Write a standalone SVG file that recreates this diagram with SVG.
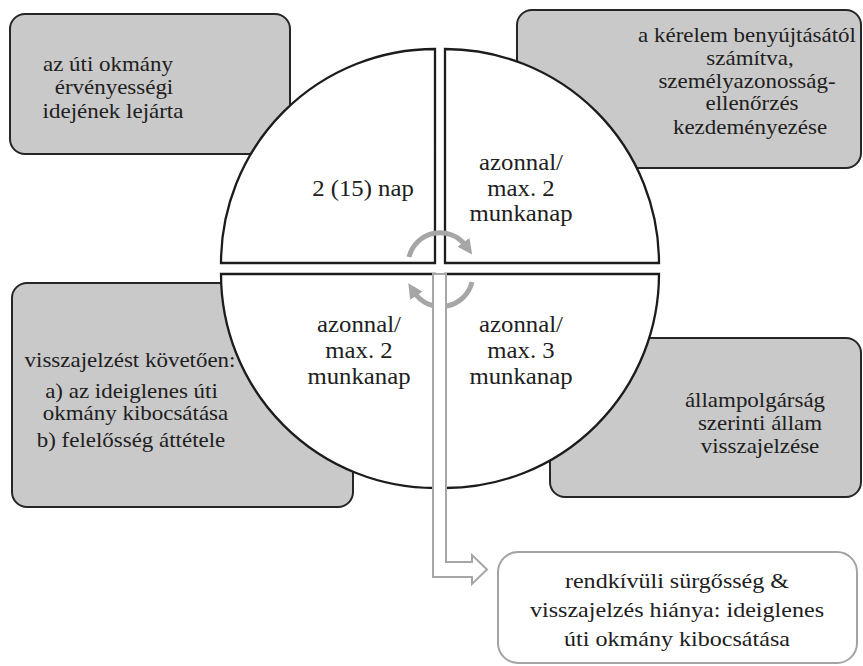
<svg xmlns="http://www.w3.org/2000/svg" width="863" height="666" viewBox="0 0 863 666">
  <defs>
    <style>
      .box { fill: #c9c9c9; stroke: #262626; stroke-width: 2; }
      .quad { fill: #ffffff; stroke: #1c1c1c; stroke-width: 2.3; }
      .note { fill: #ffffff; stroke: #a3a3a3; stroke-width: 2; }
      .cyc { fill: none; stroke: #a6a6a6; stroke-width: 5; }
      .hollow { fill: #ffffff; stroke: #a6a6a6; stroke-width: 2; }
      text { font-family: "Liberation Serif", "Times New Roman", serif; fill: #202020; text-anchor: middle; }
      .bx { font-size: 20.5px; }
      .qd { font-size: 22.5px; }
      .nt { font-size: 21.5px; }
    </style>
    <marker id="cycHead" viewBox="0 0 10 10" refX="3" refY="5" markerWidth="3" markerHeight="3" orient="auto" markerUnits="strokeWidth">
      <path d="M0,0 L10,5 L0,10 Z" fill="#a6a6a6"/>
    </marker>
  </defs>

  <rect width="863" height="666" fill="#ffffff"/>

  <!-- outer grey boxes -->
  <g id="box-top-left">
    <rect class="box" x="10" y="14" width="280" height="140" rx="15"/>
  </g>
  <g id="box-top-right">
    <rect class="box" x="517" y="10" width="344" height="158" rx="15"/>
  </g>
  <g id="box-bottom-left">
    <rect class="box" x="12" y="283" width="341" height="224" rx="15"/>
  </g>
  <g id="box-bottom-right">
    <rect class="box" x="550" y="338" width="311" height="159" rx="15"/>
  </g>

  <!-- four quadrants of the central circle -->
  <g id="quad-top-left">
    <path class="quad" d="M435,263 L221,263 A214,214 0 0 1 435,49 Z"/>
    <text class="qd" transform="translate(363 196) scale(1.1 1)">2 (15) nap</text>
  </g>
  <g id="quad-top-right">
    <path class="quad" d="M445,263 L445,49 A214,214 0 0 1 659,263 Z"/>
    <text class="qd" transform="translate(521 170) scale(1.1 1)">azonnal/</text>
    <text class="qd" transform="translate(521 196) scale(1.1 1)">max. 2</text>
    <text class="qd" transform="translate(521 221) scale(1.1 1)">munkanap</text>
  </g>
  <g id="quad-bottom-left">
    <path class="quad" d="M435,274 L435,488 A214,214 0 0 1 221,274 Z"/>
    <text class="qd" transform="translate(359 332) scale(1.1 1)">azonnal/</text>
    <text class="qd" transform="translate(359 358) scale(1.1 1)">max. 2</text>
    <text class="qd" transform="translate(359 384) scale(1.1 1)">munkanap</text>
  </g>
  <g id="quad-bottom-right">
    <path class="quad" d="M445,274 L659,274 A214,214 0 0 1 445,488 Z"/>
    <text class="qd" transform="translate(521 332) scale(1.1 1)">azonnal/</text>
    <text class="qd" transform="translate(521 358) scale(1.1 1)">max. 3</text>
    <text class="qd" transform="translate(521 384) scale(1.1 1)">munkanap</text>
  </g>

  <!-- box labels -->
  <g id="label-top-left">
    <text class="bx" transform="translate(108 70.5) scale(1.12 1)">az úti okmány</text>
    <text class="bx" transform="translate(114 94) scale(1.12 1)">érvényességi</text>
    <text class="bx" transform="translate(113 117.5) scale(1.12 1)">idejének lejárta</text>
  </g>
  <g id="label-top-right">
    <text class="bx" transform="translate(747 41.5) scale(1.12 1)">a kérelem benyújtásától</text>
    <text class="bx" transform="translate(750 65) scale(1.12 1)">számítva,</text>
    <text class="bx" transform="translate(747 87.5) scale(1.12 1)">személyazonosság-</text>
    <text class="bx" transform="translate(752 110) scale(1.12 1)">ellenőrzés</text>
    <text class="bx" transform="translate(750 133.5) scale(1.12 1)">kezdeményezése</text>
  </g>
  <g id="label-bottom-left">
    <text class="bx" transform="translate(130 366.5) scale(1.12 1)">visszajelzést követően:</text>
    <text class="bx" transform="translate(131.5 398) scale(1.12 1)">a) az ideiglenes úti</text>
    <text class="bx" transform="translate(135.5 420) scale(1.12 1)">okmány kibocsátása</text>
    <text class="bx" transform="translate(131 446.5) scale(1.12 1)">b) felelősség áttétele</text>
  </g>
  <g id="label-bottom-right">
    <text class="bx" transform="translate(755 407) scale(1.12 1)">állampolgárság</text>
    <text class="bx" transform="translate(760 430) scale(1.12 1)">szerinti állam</text>
    <text class="bx" transform="translate(760 453) scale(1.12 1)">visszajelzése</text>
  </g>

  <!-- connectors: cycle arrows in the centre and the hollow bent arrow -->
  <g id="connectors">
    <path class="cyc" d="M409,257 A32,32 0 0 1 466,246" marker-end="url(#cycHead)"/>
    <path class="cyc" d="M472,282 A32,32 0 0 1 414,292" marker-end="url(#cycHead)"/>
    <path class="hollow" d="M433,274 L433,577 L472,577 L472,584 L487,569.5 L472,555 L472,562 L446,562 L446,274 Z"/>
  </g>

  <!-- exceptional case -->
  <g id="box-exception">
    <rect class="note" x="498" y="552" width="359" height="111" rx="20"/>
    <text class="nt" transform="translate(677 588) scale(1.12 1)">rendkívüli sürgősség &amp;</text>
    <text class="nt" transform="translate(677 617) scale(1.12 1)">visszajelzés hiánya: ideiglenes</text>
    <text class="nt" transform="translate(677 646) scale(1.12 1)">úti okmány kibocsátása</text>
  </g>
</svg>
